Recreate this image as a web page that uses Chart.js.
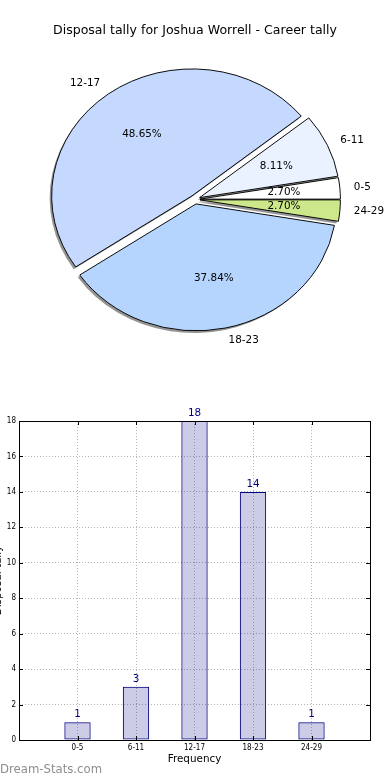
<!DOCTYPE html>
<html>
<head>
<meta charset="utf-8">
<script src="https://cdn.jsdelivr.net/npm/chart.js@4.4.1/dist/chart.umd.min.js"></script>
<style>
    html, body { margin: 0; padding: 0; background: #fff; }
    body { position: relative; width: 390px; height: 780px; overflow: hidden; }
    #pieChart { position: absolute; left: 0; top: 0; }
    #barChart { position: absolute; left: -10px; top: 390px; }
    #watermark {
        position: absolute; left: 0; top: 762px;
        font: 11.7px 'DejaVu Sans', sans-serif; color: #8e8e8e;
    }
</style>
</head>
<body>
<canvas id="pieChart" width="390" height="380"></canvas>
<canvas id="barChart" width="400" height="390"></canvas>
<div id="watermark">Dream-Stats.com</div>
<script>
// Chart data
const categories = ['0-5', '6-11', '12-17', '18-23', '24-29'];
const tallies = [1, 3, 18, 14, 1];
const pieColors = ['#ffffff', '#eaf1ff', '#c5d9ff', '#b5d5ff', '#cde88a'];
const yTicks = [0, 2, 4, 6, 8, 10, 12, 14, 16, 18];

const TITLE = 'Disposal tally for Joshua Worrell - Career tally';
const SQUASH = 0.904;   // matplotlib pie is not aspect-equal here
const EXPLODE = 5;
const LABEL_FONT = '10.4px "DejaVu Sans"';

Chart.defaults.font.family = '"DejaVu Sans", sans-serif';
Chart.defaults.color = '#000';

// Pie: matplotlib goes counter-clockwise from east, Chart.js clockwise
const pieOrder = categories.map((c, i) => i).reverse();
const total = tallies.reduce((a, b) => a + b, 0);

function explodeOffset(arc) {
    const mid = (arc.startAngle + arc.endAngle) / 2;
    return { ox: Math.cos(mid) * EXPLODE, oy: Math.sin(mid) * EXPLODE, mid: mid };
}

const ellipsePie = {
    id: 'ellipsePie',
    beforeDatasetsDraw(chart) {
        const ctx = chart.ctx;
        const arcs = chart.getDatasetMeta(0).data;
        const cx = arcs[0].x, cy = arcs[0].y;
        ctx.save();
        ctx.translate(cx, cy);
        ctx.scale(1, SQUASH);
        ctx.translate(-cx, -cy);

        // shadow first, underneath every wedge
        arcs.forEach(arc => {
            const o = explodeOffset(arc);
            const x = arc.x + o.ox - 2, y = arc.y + o.oy + 2.5;
            ctx.beginPath();
            ctx.moveTo(x, y);
            ctx.arc(x, y, arc.outerRadius, arc.startAngle, arc.endAngle);
            ctx.closePath();
            ctx.fillStyle = 'rgba(0,0,0,0.42)';
            ctx.fill();
        });

        arcs.forEach(arc => {
            const o = explodeOffset(arc);
            ctx.save();
            ctx.translate(o.ox, o.oy);
            arc.draw(ctx);
            ctx.restore();
        });
        ctx.restore();
        return false;
    },
    // afterDatasetsDraw is skipped once the draw is cancelled, so labels go here
    afterDraw(chart) {
        const ctx = chart.ctx;
        const arcs = chart.getDatasetMeta(0).data;
        ctx.save();
        ctx.font = LABEL_FONT;
        ctx.fillStyle = '#000';
        ctx.textBaseline = 'middle';
        arcs.forEach((arc, k) => {
            const idx = pieOrder[k];
            const o = explodeOffset(arc);
            const r = arc.outerRadius;

            // category label at 1.1 r
            const lx = arc.x + Math.cos(o.mid) * (r * 1.1 + EXPLODE);
            const ly = arc.y + Math.sin(o.mid) * (r * 1.1 + EXPLODE) * SQUASH;
            ctx.textAlign = lx < arc.x ? 'right' : 'left';
            ctx.fillText(categories[idx], lx, ly);

            // percentage at 0.6 r
            const px = arc.x + Math.cos(o.mid) * (r * 0.6 + EXPLODE);
            const py = arc.y + Math.sin(o.mid) * (r * 0.6 + EXPLODE) * SQUASH;
            ctx.textAlign = 'center';
            ctx.fillText((tallies[idx] / total * 100).toFixed(2) + '%', px, py);
        });
        ctx.restore();
    }
};

new Chart(document.getElementById('pieChart'), {
    type: 'pie',
    data: {
        labels: pieOrder.map(i => categories[i]),
        datasets: [{
            data: pieOrder.map(i => tallies[i]),
            backgroundColor: pieOrder.map(i => pieColors[i]),
            borderColor: '#000',
            borderWidth: 1
        }]
    },
    options: {
        responsive: false,
        animation: false,
        rotation: 90,
        layout: { padding: { left: 53, right: 53, top: 0, bottom: 39.6 } },
        plugins: {
            legend: { display: false },
            tooltip: { enabled: false },
            title: {
                display: true,
                text: TITLE,
                color: '#000',
                font: { size: 13, weight: 'normal' },
                padding: { top: 23, bottom: 20 }
            }
        }
    },
    plugins: [ellipsePie]
});

// Bar chart: box, inward ticks and value labels
const barDecor = {
    id: 'barDecor',
    afterDatasetsDraw(chart) {
        const ctx = chart.ctx;
        const a = chart.chartArea;
        const xs = chart.scales.x, ys = chart.scales.y;
        ctx.save();
        ctx.strokeStyle = '#000';
        ctx.lineWidth = 1;
        ctx.strokeRect(Math.round(a.left) + 0.5, Math.round(a.top) + 0.5,
            Math.round(a.right - a.left), Math.round(a.bottom - a.top));

        ctx.beginPath();
        yTicks.forEach(v => {
            const y = Math.round(ys.getPixelForValue(v)) + 0.5;
            ctx.moveTo(a.left, y); ctx.lineTo(a.left + 4, y);
            ctx.moveTo(a.right, y); ctx.lineTo(a.right - 4, y);
        });
        categories.forEach((c, i) => {
            const x = Math.round(xs.getPixelForValue(i)) + 0.5;
            ctx.moveTo(x, a.bottom); ctx.lineTo(x, a.bottom - 4);
            ctx.moveTo(x, a.top); ctx.lineTo(x, a.top + 4);
        });
        ctx.stroke();

        ctx.font = LABEL_FONT;
        ctx.fillStyle = '#000080';
        ctx.textAlign = 'center';
        ctx.textBaseline = 'middle';
        chart.getDatasetMeta(0).data.forEach((bar, i) => {
            ctx.fillText(String(tallies[i]), bar.x, bar.y - 8);
        });
        ctx.restore();
    }
};

const gridStyle = { color: '#b4b4b4', lineWidth: 1, drawTicks: false, offset: false };
const tickFont = { family: '"DejaVu Sans Condensed", "DejaVu Sans"', size: 8 };

new Chart(document.getElementById('barChart'), {
    type: 'bar',
    data: {
        datasets: [{
            data: categories.map((c, i) => ({ x: i, y: tallies[i] })),
            backgroundColor: 'rgba(0,0,128,0.2)',
            borderColor: '#000080',
            borderWidth: 1,
            borderSkipped: false,
            barPercentage: 0.45,
            categoryPercentage: 1
        }]
    },
    options: {
        responsive: false,
        animation: false,
        layout: { padding: { left: 0, right: 20, top: 31, bottom: 10 } },
        plugins: {
            legend: { display: false },
            tooltip: { enabled: false }
        },
        scales: {
            x: {
                type: 'linear',
                min: -1,
                max: 5,
                offset: false,
                grid: gridStyle,
                border: { display: false, dash: [1, 2] },
                ticks: {
                    stepSize: 1,
                    font: tickFont,
                    padding: 3,
                    maxRotation: 0,
                    autoSkip: false,
                    callback: v => categories[v] || ''
                },
                title: {
                    display: true,
                    text: 'Frequency',
                    font: { size: 10.4 },
                    padding: { top: 0, bottom: 4 }
                },
                afterFit: s => { s.height = 30; }
            },
            y: {
                min: 0,
                max: 18,
                grid: gridStyle,
                border: { display: false, dash: [1, 2] },
                ticks: {
                    stepSize: 2,
                    font: tickFont,
                    padding: 3
                },
                title: {
                    display: true,
                    text: 'Disposal tally',
                    font: { size: 10.4 },
                    padding: { top: 2, bottom: 0 }
                },
                afterFit: s => { s.width = 29; }
            }
        }
    },
    plugins: [barDecor]
});
</script>
</body>
</html>
